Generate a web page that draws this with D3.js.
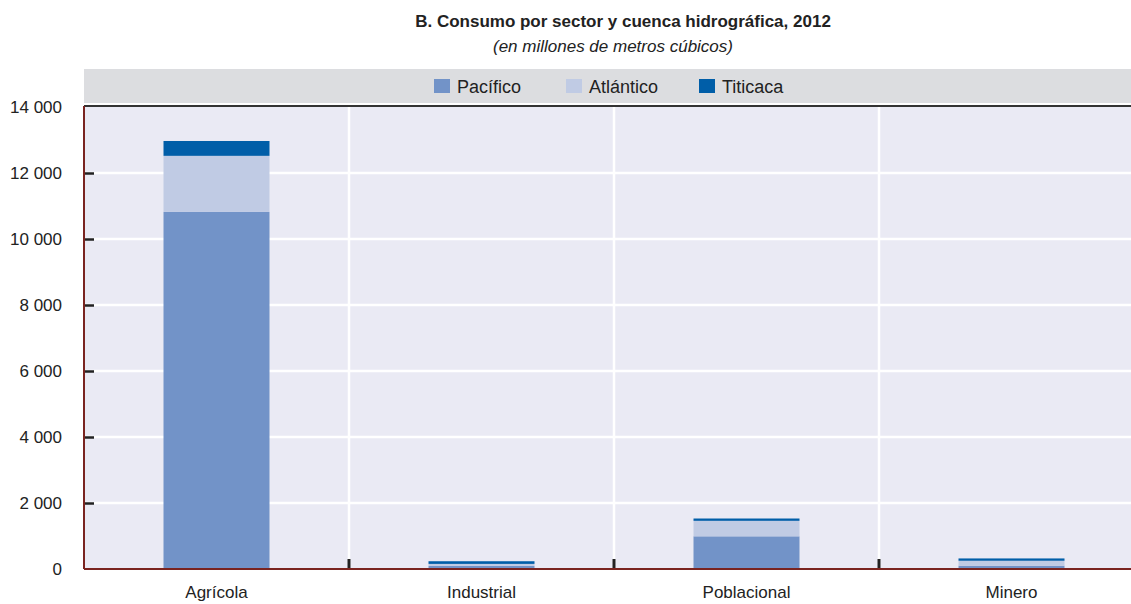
<!DOCTYPE html>
<html><head><meta charset="utf-8">
<script src="https://cdn.jsdelivr.net/npm/d3@7"></script>
<style>body{margin:0;background:#fff}svg{display:block}text{font-family:"Liberation Sans Narrow","Arial Narrow","Liberation Sans",Arial,sans-serif}</style>
</head><body><svg id="c" width="1131" height="604"></svg>
<script>
const categories = ["Agrícola","Industrial","Poblacional","Minero"];
const seriesNames = ["Pacífico","Atlántico","Titicaca"];
const pacifico = [10820, 95, 990, 100];
const atlantico = [1700, 60, 470, 150];
const titicaca = [450, 80, 70, 70];
const yTicks = [0,2000,4000,6000,8000,10000,12000,14000];
const colors = ["#7293c8","#c0cbe4","#005ea8"];

const svg = d3.select("#c");
const L=84, R=1144, T=107, B=569;
const x = d3.scaleBand().domain(categories).range([L,R]).paddingInner(0).paddingOuter(0);
const y = d3.scaleLinear().domain([0,14000]).range([B,T]);
const fmt = v => d3.format(",")(v).replace(/,/g," ");

// title
svg.append("text").attr("x",623).attr("y",27).attr("text-anchor","middle").attr("font-weight","bold").attr("font-size",17).attr("fill","#222").text("B. Consumo por sector y cuenca hidrográfica, 2012");
svg.append("text").attr("x",613).attr("y",52).attr("text-anchor","middle").attr("font-style","italic").attr("font-size",17).attr("fill","#222").text("(en millones de metros cúbicos)");

// legend band
svg.append("rect").attr("x",L).attr("y",69).attr("width",R-L).attr("height",34).attr("fill","#dcdde0");
const legX = [434,566,699];
seriesNames.forEach((n,i)=>{
  svg.append("rect").attr("x",legX[i]).attr("y",79).attr("width",16).attr("height",14).attr("fill",colors[i]);
  svg.append("text").attr("x",legX[i]+23).attr("y",92.5).attr("font-size",18).attr("fill","#222").text(n);
});

// plot bg
svg.append("rect").attr("x",L).attr("y",T-1).attr("width",R-L).attr("height",B-T+1).attr("fill","#eaeaf4");
// gridlines
svg.append("g").selectAll("line").data(yTicks.filter(d=>d>0&&d<14000)).join("line")
  .attr("x1",L).attr("x2",R).attr("y1",d=>y(d)).attr("y2",d=>y(d)).attr("stroke","#fff").attr("stroke-width",2.5);
svg.append("g").selectAll("line").data(categories.slice(1)).join("line")
  .attr("x1",d=>x(d)).attr("x2",d=>x(d)).attr("y1",T).attr("y2",B).attr("stroke","#fff").attr("stroke-width",2.5);

// stacked bars
const data = categories.map((c,i)=>({cat:c, "Pacífico":pacifico[i], "Atlántico":atlantico[i], "Titicaca":titicaca[i]}));
const stack = d3.stack().keys(seriesNames)(data);
const bw = x.bandwidth()*0.4;
svg.append("g").selectAll("g").data(stack).join("g").attr("fill",(d,i)=>colors[i])
  .selectAll("rect").data(d=>d).join("rect")
  .attr("x",d=>x(d.data.cat)+(x.bandwidth()-bw)/2).attr("width",bw)
  .attr("y",d=>y(d[1])).attr("height",d=>y(d[0])-y(d[1]));

// top border
svg.append("line").attr("x1",L).attr("x2",R).attr("y1",T-1).attr("y2",T-1).attr("stroke","#333").attr("stroke-width",2);

// y axis
const ya = svg.append("g").attr("transform",`translate(${L},0)`)
  .call(d3.axisRight(y).tickValues(yTicks).tickSize(10).tickFormat(""));
ya.select(".domain").remove();
ya.selectAll("line").attr("stroke","#222").attr("stroke-width",2.5);
ya.selectAll(".tick").filter(d=>d===0||d===14000).remove();
svg.append("g").selectAll("text").data(yTicks).join("text")
  .attr("x",62).attr("y",d=>y(d)+6).attr("text-anchor","end").attr("font-size",17).attr("fill","#222").text(fmt);
svg.append("line").attr("x1",L).attr("x2",L).attr("y1",T-1).attr("y2",B).attr("stroke","#7a2420").attr("stroke-width",2);

// x axis
svg.append("g").selectAll("line").data(categories.slice(1)).join("line")
  .attr("x1",d=>x(d)).attr("x2",d=>x(d)).attr("y1",B-10).attr("y2",B).attr("stroke","#222").attr("stroke-width",3);
svg.append("line").attr("x1",L).attr("x2",R).attr("y1",B).attr("y2",B).attr("stroke","#7a2420").attr("stroke-width",2);
const xa = svg.append("g").attr("transform",`translate(0,${B})`).call(d3.axisBottom(x).tickSize(0).tickPadding(0));
xa.select(".domain").remove();
xa.selectAll("text").attr("y",29).attr("dy",0).attr("font-size",17).attr("fill","#222")
  .style("font-family",'"Liberation Sans Narrow","Arial Narrow","Liberation Sans",Arial,sans-serif');
</script></body></html>
